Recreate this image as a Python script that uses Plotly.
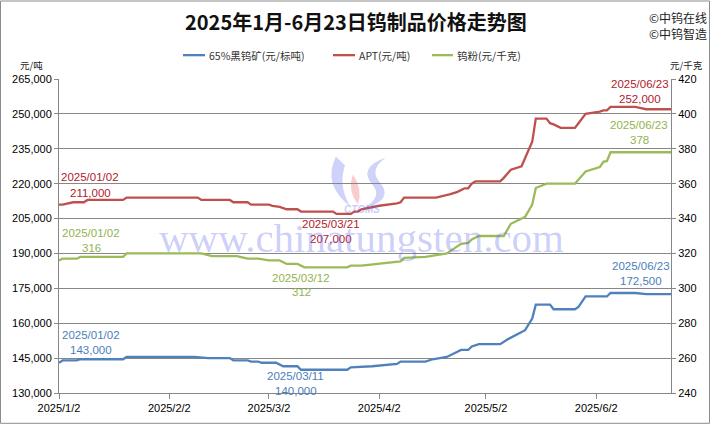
import plotly.graph_objects as go

# ---------------- data ----------------
ore_dates = ["2025-01-02","2025-01-03","2025-01-07","2025-01-08","2025-01-20","2025-01-21","2025-02-09","2025-02-13",
             "2025-02-19","2025-02-20","2025-02-24","2025-02-25","2025-02-27","2025-02-28","2025-03-04","2025-03-06",
             "2025-03-10","2025-03-11","2025-03-24","2025-03-25","2025-03-31","2025-04-07","2025-04-08","2025-04-15",
             "2025-04-17","2025-04-21","2025-04-25","2025-04-27","2025-04-28","2025-04-30","2025-05-06","2025-05-08",
             "2025-05-13","2025-05-15","2025-05-16","2025-05-20","2025-05-21","2025-05-27","2025-05-28","2025-05-30",
             "2025-06-05","2025-06-06","2025-06-13","2025-06-16","2025-06-23"]
ore_vals = [143000,144000,144000,144500,144500,145500,145500,145000,
            145000,144000,144000,143500,143500,143000,143000,141500,
            141500,140000,140000,141000,141500,142500,143500,143500,
            144500,145500,148500,148500,150000,151000,151000,153000,
            157000,162000,168000,168000,166000,166000,167000,171500,
            171500,173000,173000,172500,172500]

apt_dates = ["2025-01-02","2025-01-03","2025-01-06","2025-01-09","2025-01-10","2025-01-20","2025-01-21","2025-02-10",
             "2025-02-11","2025-02-19","2025-02-20","2025-02-24","2025-02-25","2025-03-02","2025-03-03","2025-03-05",
             "2025-03-07","2025-03-10","2025-03-11","2025-03-20","2025-03-21","2025-03-25","2025-03-26","2025-03-27",
             "2025-03-28","2025-03-31","2025-04-02","2025-04-07","2025-04-08","2025-04-09","2025-04-18","2025-04-22",
             "2025-04-24","2025-04-26","2025-04-27","2025-04-28","2025-04-29","2025-05-06","2025-05-07","2025-05-09",
             "2025-05-12","2025-05-13","2025-05-15","2025-05-16","2025-05-19","2025-05-20","2025-05-21","2025-05-23",
             "2025-05-27","2025-05-28","2025-05-30","2025-06-03","2025-06-04","2025-06-05","2025-06-06","2025-06-13",
             "2025-06-16","2025-06-23"]
apt_vals = [211000,211000,212000,212000,213000,213000,214000,214000,
            213000,213000,212000,212000,211000,211000,210500,210000,
            209000,209000,208000,208000,207000,207000,208000,208000,
            209000,210000,210500,211500,212000,214000,214000,215500,
            216500,218000,218000,220000,221000,221000,222500,226000,
            227500,231000,238000,248000,248000,246000,245500,244000,
            244000,246000,250000,251000,251500,251500,253000,253000,
            252000,252000]

powder_dates = ["2025-01-02","2025-01-03","2025-01-07","2025-01-08","2025-01-20","2025-01-21","2025-02-11","2025-02-14",
                "2025-02-21","2025-02-24","2025-02-27","2025-03-02","2025-03-05","2025-03-07","2025-03-10","2025-03-12",
                "2025-03-24","2025-03-25","2025-03-28","2025-04-02","2025-04-08","2025-04-09","2025-04-15","2025-04-21",
                "2025-04-25","2025-04-27","2025-04-28","2025-04-30","2025-05-07","2025-05-09","2025-05-12","2025-05-13",
                "2025-05-15","2025-05-16","2025-05-19","2025-05-27","2025-05-30","2025-06-03","2025-06-04","2025-06-05",
                "2025-06-06","2025-06-23"]
powder_vals = [316,317,317,318,318,320,320,318.5,
               318.5,317,317,316,316,314,314,312,
               312,313,313,314,315.5,317.5,318,320,
               325.5,326,328,330,330,337,340,341,
               348,357.5,360,360,367,369.5,372.5,373,
               378,378]

series_names = ["65%黑钨矿(元/标吨)", "APT(元/吨)", "钨粉(元/千克)"]
x_tick_vals = ["2025-01-02","2025-02-02","2025-03-02","2025-04-02","2025-05-02","2025-06-02"]
x_tick_text = ["2025/1/2","2025/2/2","2025/3/2","2025/4/2","2025/5/2","2025/6/2"]
title_text = "2025年1月-6月23日钨制品价格走势图"

# ---------------- style ----------------
W, H = 710, 426
L, R, T, B = 59, 39, 79, 31
PW, PH = W - L - R, H - T - B
C_BLUE, C_RED, C_GREEN = "#4F81BD", "#C0504D", "#9BBB59"
T_BLUE, T_RED, T_GREEN = "#4A7EBB", "#B0202A", "#92B350"
GRID = "#878787"
NUM_FONT = "Liberation Sans"
CJK_FONT = "Noto Sans CJK SC"

def pxx(x):
    return (x - L) / PW

def pxy(y):
    return (H - B - y) / PH

fig = go.Figure()
fig.add_trace(go.Scatter(x=ore_dates, y=ore_vals, mode="lines", name=series_names[0],
                         line=dict(color=C_BLUE, width=2.3), yaxis="y"))
fig.add_trace(go.Scatter(x=apt_dates, y=apt_vals, mode="lines", name=series_names[1],
                         line=dict(color=C_RED, width=2.3), yaxis="y"))
fig.add_trace(go.Scatter(x=powder_dates, y=powder_vals, mode="lines", name=series_names[2],
                         line=dict(color=C_GREEN, width=2.3), yaxis="y2"))

annotations = []
shapes = []

# data labels anchored to data points
def dlabel(xv, yv, yref, lines, color, xshift, yshifts):
    for txt, ys in zip(lines, yshifts):
        annotations.append(dict(x=xv, y=yv, xref="x", yref=yref, text=txt, showarrow=False,
                                xanchor="center", yanchor="middle", xshift=xshift, yshift=ys,
                                font=dict(family=NUM_FONT, size=11.5, color=color)))

dlabel(apt_dates[0], apt_vals[0], "y", ["2025/01/02", "211,000"], T_RED, 31, [28, 12])
dlabel("2025-03-21", 207000, "y", ["2025/03/21", "207,000"], T_RED, -6, [-10, -25])
dlabel(apt_dates[-1], apt_vals[-1], "y", ["2025/06/23", "252,000"], T_RED, -31, [25, 10])
dlabel(powder_dates[0], powder_vals[0], "y2", ["2025/01/02", "316"], T_GREEN, 32, [27.5, 12.5])
dlabel("2025-03-12", 312, "y2", ["2025/03/12", "312"], T_GREEN, -3.5, [-10.5, -24.5])
dlabel(powder_dates[-1], powder_vals[-1], "y2", ["2025/06/23", "378"], T_GREEN, -32, [27.5, 12.5])
dlabel(ore_dates[0], ore_vals[0], "y", ["2025/01/02", "143,000"], T_BLUE, 32, [27.5, 12.5])
dlabel("2025-03-11", 140000, "y", ["2025/03/11", "140,000"], T_BLUE, -5, [-6.5, -21.5])
dlabel(ore_dates[-1], ore_vals[-1], "y", ["2025/06/23", "172,500"], T_BLUE, -30, [28.5, 13.5])

def plabel(text, x, y, size, color, family=CJK_FONT, xanchor="center", bold=False):
    if bold:
        text = "<b>" + text + "</b>"
    annotations.append(dict(x=pxx(x), y=pxy(y), xref="paper", yref="paper", text=text, showarrow=False,
                            xanchor=xanchor, yanchor="middle", align="left",
                            font=dict(family=family, size=size, color=color)))

# title and corner marks
plabel(title_text, 356, 21, 20, "#111111", bold=True)
plabel("©中钨在线<br>©中钨智造", 647, 25, 12, "#222222", xanchor="left")
plabel("元/吨", 31, 65, 9.5, "#222222")
plabel("元/千克", 686, 65, 9.5, "#222222")

# legend (manual)
legend_items = [(183, 205, C_BLUE, series_names[0]), (333, 355, C_RED, series_names[1]), (432, 453, C_GREEN, series_names[2])]
for x0, x1, col, name in legend_items:
    shapes.append(dict(type="line", xref="paper", yref="paper", x0=pxx(x0), x1=pxx(x1), y0=pxy(55), y1=pxy(55),
                       line=dict(color=col, width=2.3)))
    plabel(name, x1 + 2, 55, 10.5, "#333333", xanchor="left")

# watermark
annotations.append(dict(x=pxx(361), y=pxy(239), xref="paper", yref="paper", text="www.chinatungsten.com",
                        showarrow=False, xanchor="center", yanchor="middle",
                        font=dict(family="Liberation Serif", size=41, color="rgba(95,105,235,0.33)")))
annotations.append(dict(x=pxx(362), y=pxy(210), xref="paper", yref="paper", text="<b><i>CTOMS</i></b>",
                        showarrow=False, xanchor="center", yanchor="middle",
                        font=dict(family="Liberation Sans", size=10, color="rgba(95,105,235,0.35)")))

def path_from(points_cmd):
    out = []
    for tok in points_cmd:
        if isinstance(tok, str):
            out.append(tok)
        else:
            out.append(f"{pxx(tok[0]):.5f},{pxy(tok[1]):.5f}")
    return " ".join(out)

logo_left = path_from(["M", (336, 157), "Q", (322, 185), (350, 207), "Q", (338, 186), (345, 166), "Z"])
logo_mid = path_from(["M", (353, 175), "Q", (347, 191), (358, 205), "Q", (363, 190), (353, 175), "Z"])
logo_right = path_from(["M", (386, 158), "Q", (358, 168), (372, 185), "Q", (384, 198), (362, 210),
                        "Q", (396, 201), (379, 182), "Q", (369, 170), (386, 158), "Z"])
for p, col in [(logo_left, "rgba(95,105,235,0.30)"), (logo_mid, "rgba(235,90,90,0.30)"),
               (logo_right, "rgba(95,105,235,0.30)")]:
    shapes.append(dict(type="path", xref="paper", yref="paper", path=p, fillcolor=col,
                       line=dict(width=0), layer="below"))

# outer border
shapes.append(dict(type="rect", xref="paper", yref="paper", x0=pxx(0.5), x1=pxx(W - 0.5), y0=pxy(0.5), y1=pxy(H - 0.5),
                   line=dict(color="#8C8C8C", width=1)))

fig.update_layout(
    width=W, height=H,
    margin=dict(l=L, r=R, t=T, b=B, pad=0),
    paper_bgcolor="white", plot_bgcolor="white",
    showlegend=False,
    hovermode=False,
    annotations=annotations,
    shapes=shapes,
    xaxis=dict(type="date", range=["2025-01-02", "2025-06-23"], tickvals=x_tick_vals, ticktext=x_tick_text,
               showgrid=False, showline=True, linecolor=GRID, linewidth=1, ticks="outside", ticklen=5,
               tickcolor=GRID, tickfont=dict(family=NUM_FONT, size=11, color="#000000"), zeroline=False),
    yaxis=dict(range=[130000, 265000], dtick=15000, tick0=130000, tickformat=",", showgrid=True, gridcolor=GRID,
               gridwidth=1, showline=True, linecolor=GRID, linewidth=1, ticks="outside", ticklen=4, tickcolor=GRID,
               tickfont=dict(family=NUM_FONT, size=11, color="#000000"), zeroline=False),
    yaxis2=dict(range=[240, 420], dtick=20, tick0=240, overlaying="y", side="right", showgrid=False,
                showline=True, linecolor=GRID, linewidth=1, ticks="outside", ticklen=4, tickcolor=GRID,
                tickfont=dict(family=NUM_FONT, size=11, color="#000000"), zeroline=False),
)

fig.write_html("out.html", config={"displayModeBar": False, "staticPlot": True},
               post_script="document.body.style.margin='0';document.body.style.overflow='hidden';")
